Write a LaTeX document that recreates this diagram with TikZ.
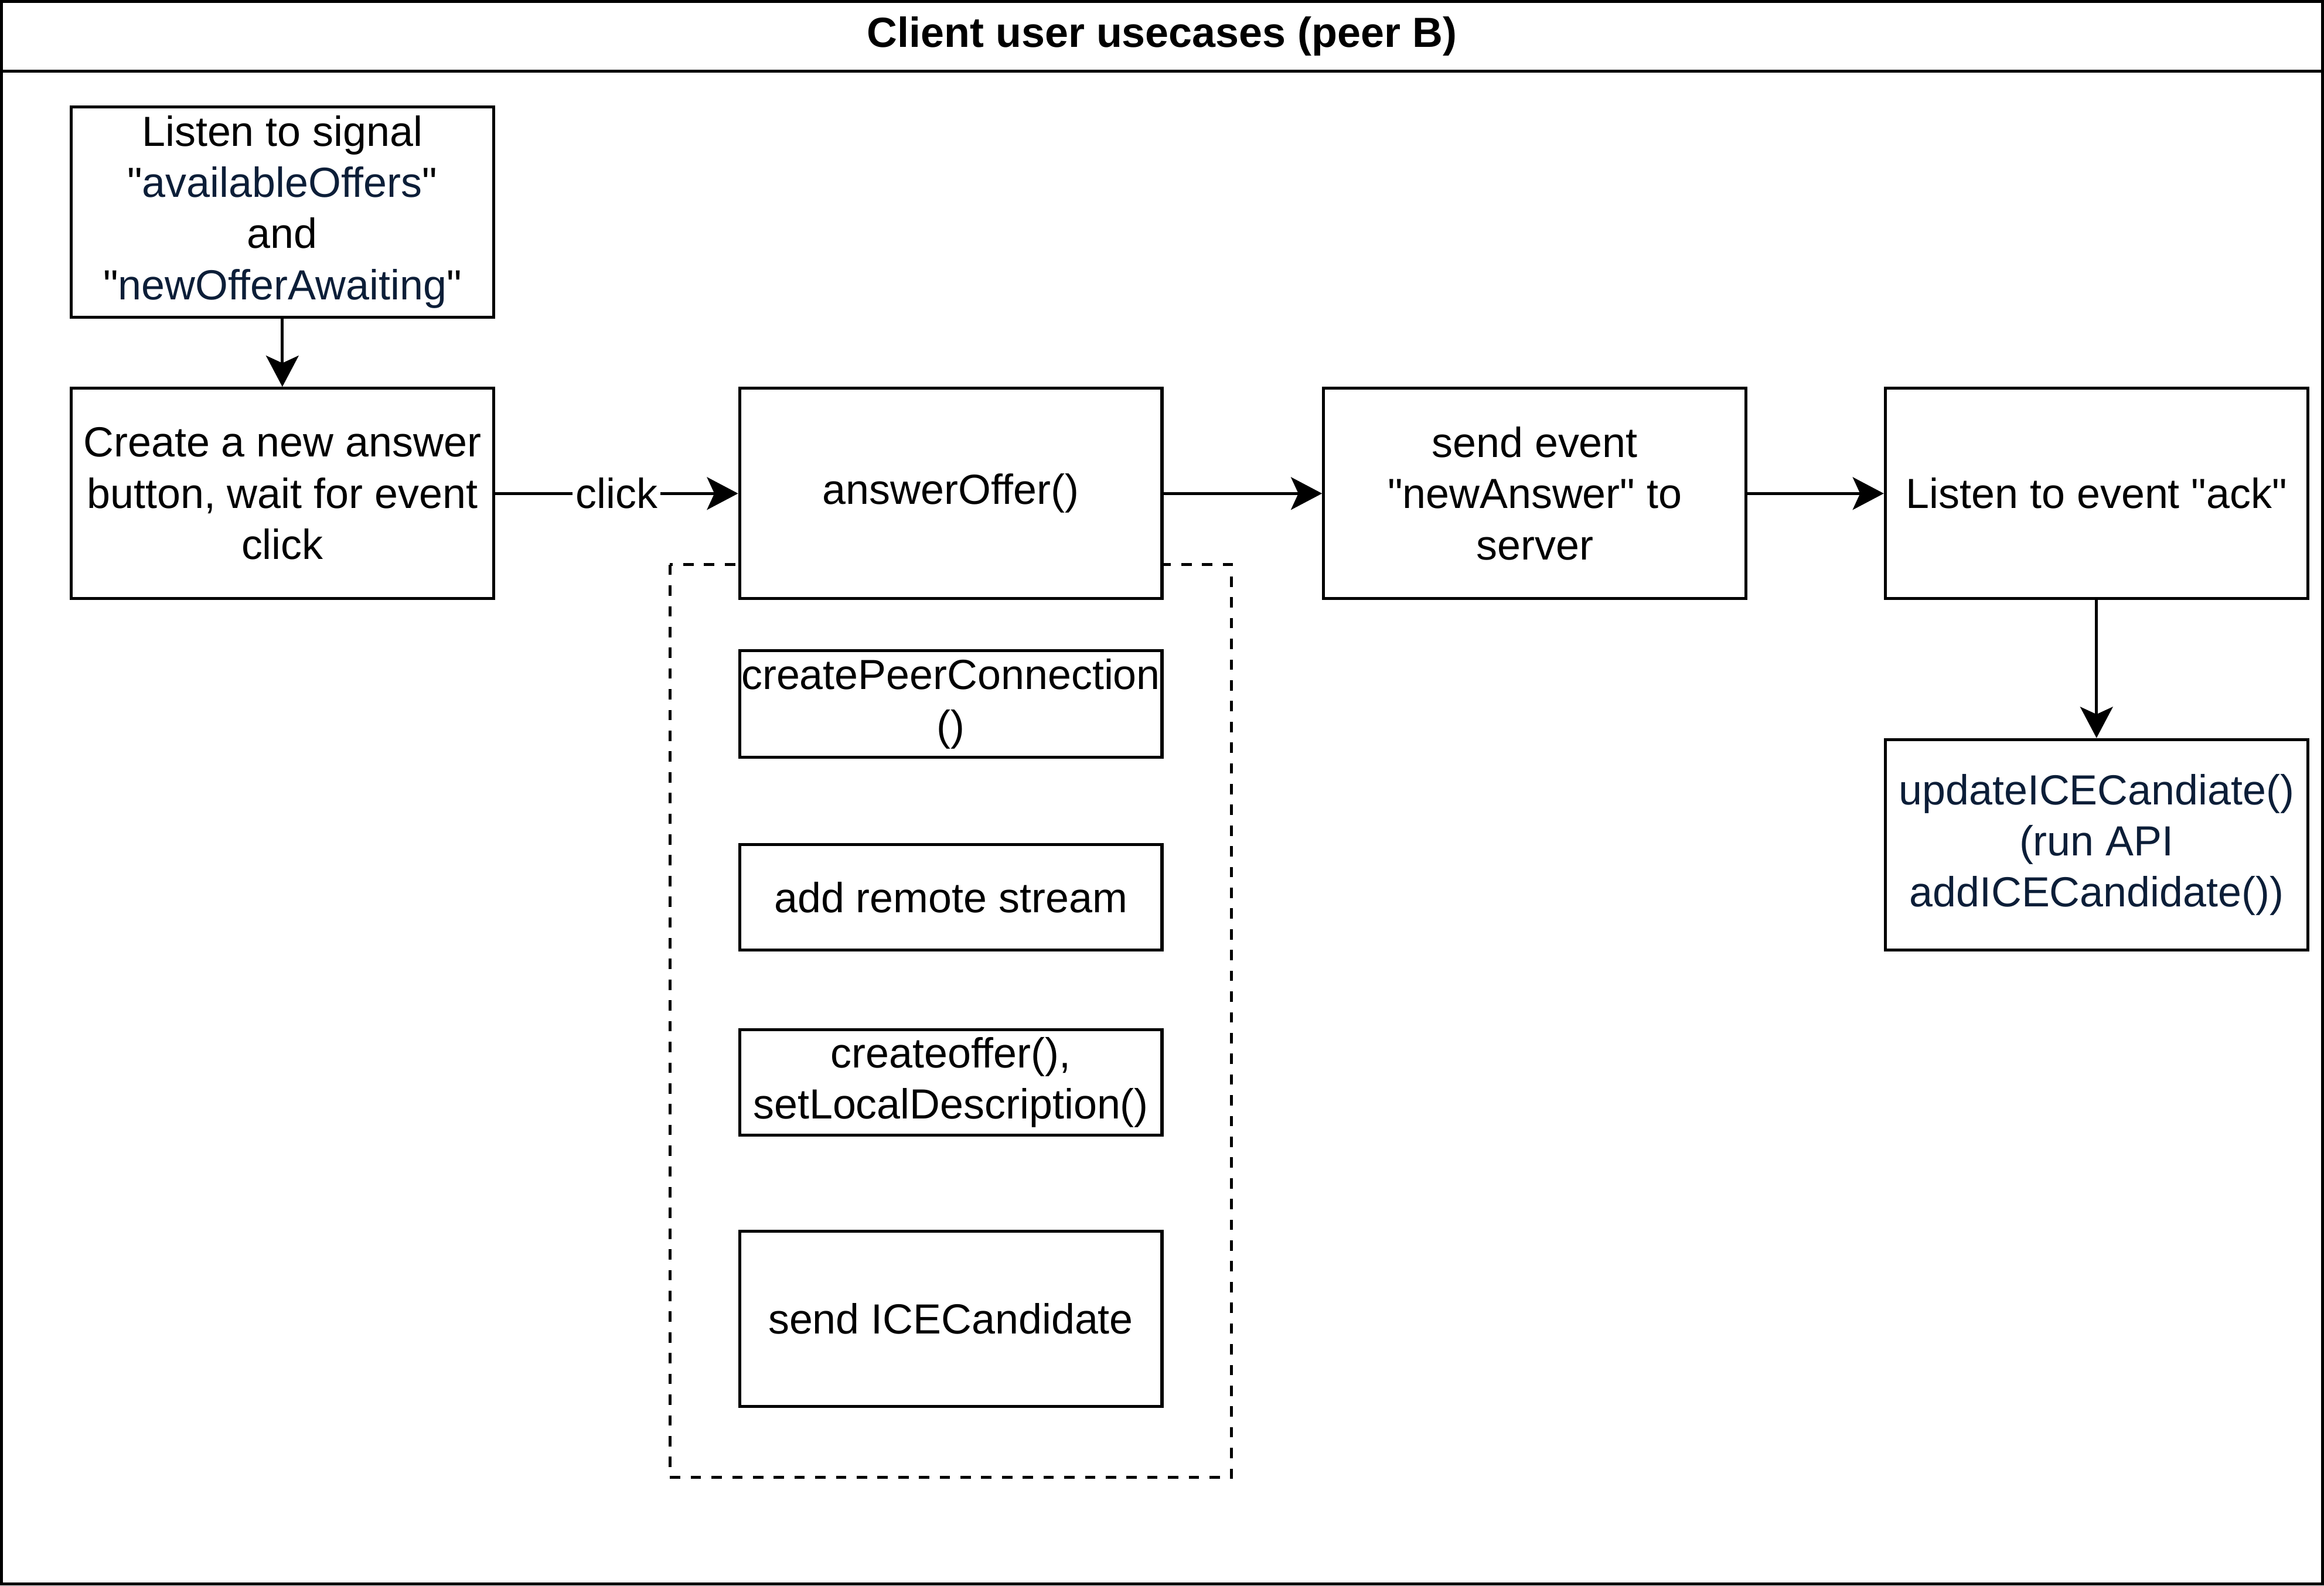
\documentclass[tikz,border=0pt]{standalone}
\usepackage{fontspec}
\setmainfont{Liberation Sans}[Ligatures=TeXOff]
\usetikzlibrary{arrows.meta}
\definecolor{navy}{RGB}{12,30,56}

\begin{document}
\begin{tikzpicture}[x=0.5pt,y=-0.5pt,line width=1pt,
    font=\fontsize{14.2}{17.25}\selectfont,
    >={Stealth[length=10.5pt,width=11pt,inset=2.5pt]}]

        \useasboundingbox (0,0) rectangle (1568,1070);

        % frame and title
        \draw (1,1) rectangle (1567,1069);
        \draw (1,48) -- (1567,48);
        \node[font=\fontsize{14.2}{17.25}\selectfont\bfseries] (title) at (784,24.5) {Client user usecases (peer B)};

        % group round the steps of answerOffer()
        \draw[dash pattern=on 3.5pt off 3.5pt] (452,381) rectangle (831,997);

        \begin{scope}[every node/.style={draw,fill=white,align=center,inner sep=0pt,
            minimum width=142.5pt,minimum height=71pt}]
          \node (1)  at (190.5,143)  {Listen to signal\\"\textcolor{navy}{availableOffers}"\\and\\"\textcolor{navy}{newOfferAwaiting}"};
          \node (2)  at (190.5,333)  {Create a new answer\\button, wait for event\\click};
          \node (3)  at (641.5,333)  {answerOffer()};
          \node (4)  at (1035.5,333) {send event\\"newAnswer" to\\server};
          \node (5)  at (1414.5,333) {Listen to event "ack"};
          \node (6)  at (1414.5,570) {\color{navy}updateICECandiate()\\\color{navy}(run API\\\color{navy}addICECandidate())};
          \node[minimum height=36pt] (7)  at (641.5,475)   {createPeerConnection\\()};
          \node[minimum height=35.5pt] (8)  at (641.5,605.5) {add remote stream};
          \node[minimum height=35.5pt] (9)  at (641.5,730.5) {createoffer(),\\setLocalDescription()};
          \node[minimum height=59pt] (10) at (641.5,890)   {send ICECandidate};
        \end{scope}

        \begin{scope}[every node/.style={fill=white,inner sep=1pt}]

          \begin{scope}[every edge/.style={draw,->}]
            \path (1) edge (2);
            \path (2) edge node {click} (3);
            \path (3) edge (4);
            \path (4) edge (5);
            \path (5) edge (6);
          \end{scope}
        \end{scope}

      \end{tikzpicture}
\end{document}
